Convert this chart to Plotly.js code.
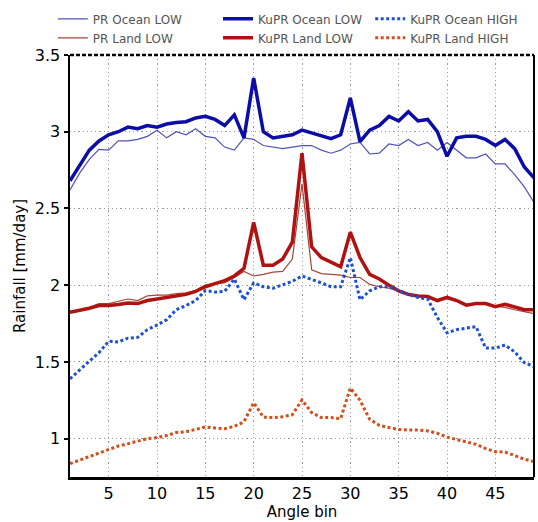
<!DOCTYPE html>
<html>
<head>
<meta charset="utf-8">
<script src="https://cdn.plot.ly/plotly-3.0.1.min.js"></script>
<style>
html, body { margin: 0; padding: 0; background: #fff; }
#chart { width: 538px; height: 522px; }
</style>
</head>
<body>
<div id="chart"></div>
<script>
const angleBins = [1,2,3,4,5,6,7,8,9,10,11,12,13,14,15,16,17,18,19,20,21,22,23,24,25,26,27,28,29,30,31,32,33,34,35,36,37,38,39,40,41,42,43,44,45,46,47,48,49];

const prOceanLow = [2.62,2.73,2.82,2.885,2.88,2.94,2.94,2.95,2.97,3.01,2.96,3.00,2.98,3.02,2.97,2.96,2.90,2.88,2.96,2.95,2.91,2.90,2.89,2.90,2.91,2.91,2.88,2.86,2.88,2.92,2.93,2.855,2.86,2.92,2.91,2.95,2.91,2.93,2.88,2.93,2.88,2.83,2.83,2.855,2.79,2.79,2.72,2.64,2.54];

const kuprOceanLow = [2.68,2.78,2.88,2.94,2.98,3.00,3.03,3.02,3.04,3.03,3.05,3.06,3.065,3.09,3.10,3.08,3.04,3.11,2.96,3.35,3.00,2.96,2.97,2.98,3.01,2.99,2.97,2.955,2.98,3.22,2.935,3.01,3.04,3.10,3.07,3.13,3.07,3.08,3.00,2.84,2.96,2.97,2.97,2.95,2.91,2.95,2.89,2.77,2.70];

const kuprOceanHigh = [1.39,1.45,1.505,1.56,1.635,1.63,1.655,1.66,1.71,1.74,1.775,1.84,1.867,1.90,1.965,1.955,1.96,2.04,1.905,2.015,1.99,1.98,2.00,2.025,2.06,2.04,2.015,1.99,1.99,2.18,1.905,1.963,1.99,1.99,1.963,1.94,1.92,1.91,1.79,1.69,1.71,1.72,1.73,1.59,1.59,1.61,1.565,1.495,1.47];

const prLandLow = [1.83,1.84,1.855,1.88,1.88,1.897,1.91,1.90,1.93,1.935,1.935,1.945,1.95,1.965,2.00,2.01,2.015,2.05,2.09,2.06,2.07,2.085,2.09,2.17,2.66,2.10,2.075,2.07,2.065,2.05,2.05,2.005,1.99,1.98,1.96,1.945,1.93,1.925,1.90,1.915,1.90,1.87,1.88,1.875,1.865,1.855,1.84,1.83,1.815];

const kuprLandLow = [1.823,1.835,1.85,1.867,1.867,1.874,1.884,1.88,1.90,1.91,1.92,1.927,1.94,1.96,1.99,2.01,2.03,2.06,2.11,2.41,2.13,2.13,2.17,2.28,2.86,2.25,2.18,2.15,2.12,2.345,2.18,2.07,2.04,2.00,1.963,1.94,1.93,1.926,1.90,1.92,1.90,1.87,1.88,1.88,1.86,1.876,1.86,1.84,1.84];

const kuprLandHigh = [0.837,0.861,0.883,0.909,0.93,0.952,0.967,0.985,1.0,1.007,1.02,1.04,1.045,1.06,1.076,1.07,1.065,1.08,1.11,1.234,1.14,1.137,1.143,1.156,1.252,1.17,1.137,1.137,1.13,1.33,1.25,1.126,1.087,1.072,1.06,1.056,1.056,1.05,1.035,1.01,0.996,0.98,0.963,0.935,0.915,0.913,0.887,0.866,0.85];

const seriesNames = ['PR Ocean LOW','PR Land LOW','KuPR Ocean LOW','KuPR Land LOW','KuPR Ocean HIGH','KuPR Land HIGH'];
const yTickVals = [1,1.5,2,2.5,3,3.5];
const yTickText = ['1','1.5','2','2.5','3','3.5'];
const xTickVals = [5,10,15,20,25,30,35,40,45];

const traces = [
  {x: angleBins, y: prOceanLow, name: seriesNames[0], legend: 'legend', mode: 'lines',
   line: {color: '#5252b6', width: 1.2}},
  {x: angleBins, y: prLandLow, name: seriesNames[1], legend: 'legend', mode: 'lines',
   line: {color: '#a4463c', width: 1.2}},
  {x: angleBins, y: kuprOceanLow, name: seriesNames[2], legend: 'legend2', mode: 'lines',
   line: {color: '#0c0ca8', width: 3.5}},
  {x: angleBins, y: kuprLandLow, name: seriesNames[3], legend: 'legend2', mode: 'lines',
   line: {color: '#b01212', width: 3.5}},
  {x: angleBins, y: kuprOceanHigh, name: seriesNames[4], legend: 'legend3', mode: 'lines',
   line: {color: '#1f50d0', width: 3, dash: '3px,2.5px'}},
  {x: angleBins, y: kuprLandHigh, name: seriesNames[5], legend: 'legend3', mode: 'lines',
   line: {color: '#d2501e', width: 3, dash: '3px,2.5px'}}
];

const legendFont = {family: 'DejaVu Sans', size: 12, color: '#555'};
const legendBase = {orientation: 'v', xanchor: 'left', yanchor: 'top', y: 1.12,
  bgcolor: 'rgba(0,0,0,0)', borderwidth: 0, font: legendFont, traceorder: 'normal'};

const layout = {
  width: 538, height: 522,
  margin: {l: 70, r: 4, t: 55, b: 45},
  paper_bgcolor: '#fff', plot_bgcolor: '#fff',
  showlegend: true,
  legend: Object.assign({}, legendBase, {x: -0.037}),
  legend2: Object.assign({}, legendBase, {x: 0.319}),
  legend3: Object.assign({}, legendBase, {x: 0.647}),
  xaxis: {
    range: [1, 49], tickvals: xTickVals, ticks: '', showline: true, linecolor: '#000', linewidth: 2.5,
    showgrid: true, gridcolor: '#9a9a9a', gridwidth: 1, griddash: '1.2px,3px', zeroline: false,
    tickfont: {family: 'DejaVu Sans', size: 16, color: '#000'},
    title: {text: 'Angle bin', font: {family: 'DejaVu Sans', size: 15, color: '#000'}, standoff: 2}
  },
  yaxis: {
    range: [0.75, 3.5], tickvals: yTickVals, ticktext: yTickText, ticks: 'outside', ticklen: 4, tickwidth: 2,
    tickcolor: '#000', showline: true, linecolor: '#000', linewidth: 2.5,
    showgrid: true, gridcolor: '#9a9a9a', gridwidth: 1, griddash: '1.2px,3px', zeroline: false,
    tickfont: {family: 'DejaVu Sans', size: 16, color: '#000'},
    title: {text: 'Rainfall [mm/day]', font: {family: 'DejaVu Sans', size: 15, color: '#000'}, standoff: 6}
  },
  shapes: [
    {type: 'line', xref: 'paper', yref: 'paper', x0: 0, x1: 1, y0: 1, y1: 1,
     line: {color: '#000', width: 2.5, dash: '4px,2px'}},
    {type: 'line', xref: 'paper', yref: 'paper', x0: 1, x1: 1, y0: 0, y1: 1,
     line: {color: '#000', width: 2}}
  ]
};

Plotly.newPlot('chart', traces, layout, {displayModeBar: false, staticPlot: true});
</script>
</body>
</html>
